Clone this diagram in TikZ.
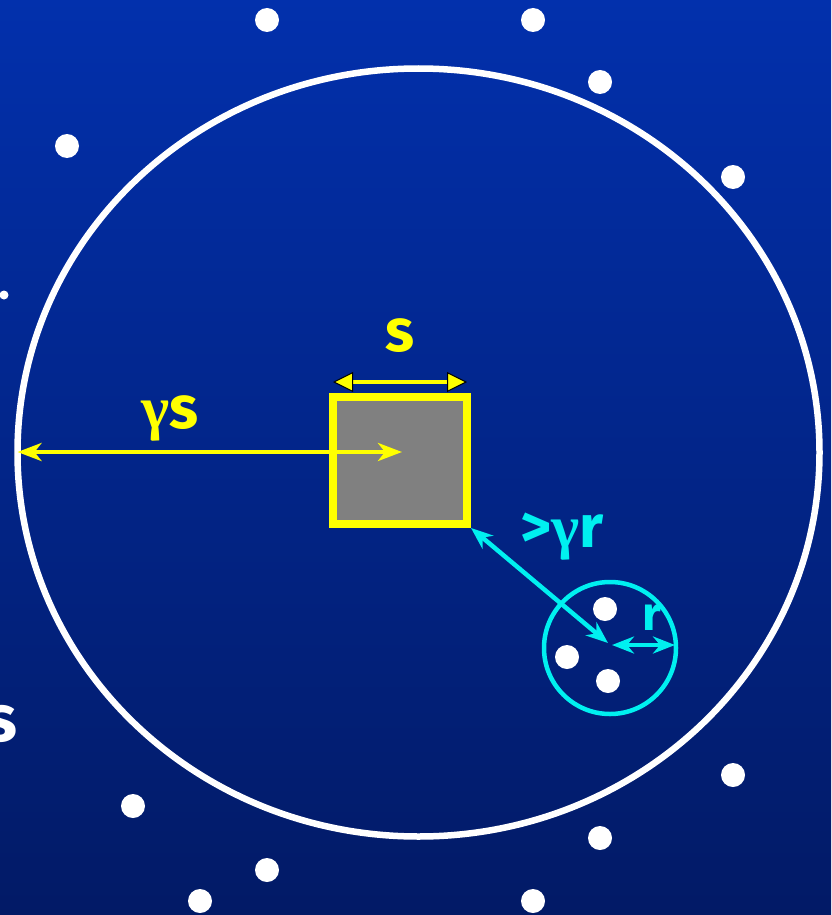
\documentclass[tikz,border=0pt]{standalone}
\usepackage{fontspec}
\setmainfont{Fira Sans}
\newfontfamily\greekfont{Liberation Serif}
\usetikzlibrary{arrows.meta}
\definecolor{bgtop}{RGB}{2,48,172}
\definecolor{bgbot}{RGB}{2,26,102}
\definecolor{ylw}{RGB}{255,255,0}
\definecolor{cyn}{RGB}{0,240,240}
\begin{document}
\begin{tikzpicture}[x=1pt,y=-1pt,
  dot/.style={fill=white},
  lbl/.style={inner sep=0pt, font=\fontsize{60}{60}\selectfont\bfseries},
  yarrow/.style={draw=ylw, line width=4pt, {Stealth[length=24pt,width=18pt,inset=7pt]}-{Stealth[length=24pt,width=18pt,inset=7pt]}},
  carrow/.style={draw=cyn, line width=4.5pt, {Stealth[length=22pt,width=17pt,inset=7pt]}-{Stealth[length=22pt,width=17pt,inset=7pt]}}]
\useasboundingbox (0,0) rectangle (831,915);
\shade[top color=bgtop, bottom color=bgbot] (0,0) rectangle (831,915);
% big circle
\draw[white, line width=6.5pt] (418.5,452.5) ellipse [x radius=401pt, y radius=384pt];
\coordinate (bigleft) at (17.5,452);
% outside dots
\foreach \p in {(267,20),(533,20),(600,82),(67,146),(733,177),(733,775),(133,806),(600,838),(267,870),(200,901),(533,901)}
  \fill[dot] \p circle (12pt);
\fill[dot] (4,295) circle (4.5pt);
% partial s on the left edge
\begin{scope}
\clip (0,0) rectangle (831,915);
\node[lbl, text=white, font=\fontsize{66}{66}\selectfont\bfseries] (sleft) at (1,724) {s};
\end{scope}
% square
\node[draw=ylw, line width=8pt, fill={rgb,255:red,128;green,128;blue,128}, minimum width=134pt, minimum height=127pt, inner sep=0] (sq) at (400,460.5) {};
% s arrow
\coordinate (sa) at (333,382);
\coordinate (sb) at (467,382);
\draw[ylw, line width=4pt, {Triangle[length=20pt,width=20pt,fill=ylw,color=black,line width=1pt]}-{Triangle[length=20pt,width=20pt,fill=ylw,color=black,line width=1pt]}] (sa) -- (sb);
\node[lbl, text=ylw] (slbl) at (400,336) {s};
% gamma s arrow
\coordinate (gsend) at (402,452);
\draw[yarrow] (bigleft) -- (gsend);
\node[lbl, text=ylw] (gslbl) at (170,418) {{\greekfont γ}s};
% small circle
\coordinate (cc) at (610,648);
\draw[cyn, line width=4.5pt] (cc) circle (66pt);
\fill[dot] (605,609) circle (12pt);
\fill[dot] (567,657) circle (12pt);
\fill[dot] (608,681) circle (12pt);
\coordinate (ctip) at (608,643);
\coordinate (rtipa) at (612,645);
\coordinate (rtipb) at (675,645);
\draw[carrow] (sq.south east) -- (ctip);
\draw[carrow] (rtipa) -- (rtipb);
\node[lbl, text=cyn] (gr) at (562,537) {>{\greekfont γ}r};
\node[lbl, text=cyn, font=\fontsize{48}{48}\selectfont\bfseries] (r) at (652,617) {r};
\end{tikzpicture}
\end{document}
